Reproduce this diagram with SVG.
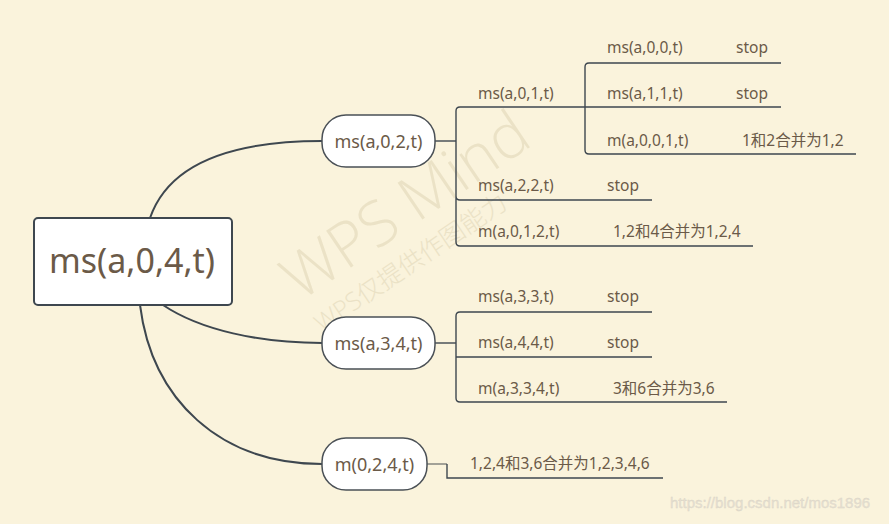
<svg xmlns="http://www.w3.org/2000/svg" width="889" height="524" viewBox="0 0 889 524">
<style>
.bg{fill:#faf3dc}
.t{font-family:"Noto Sans","Noto Sans CJK SC",sans-serif;fill:#6b5a48}
.s{font-size:15.5px}
.n{font-size:18px}
.ln{fill:none;stroke:#3e474f;stroke-width:1.4}
.cv{fill:none;stroke:#3e474f;stroke-width:2}
.pill{fill:#ffffff;stroke:#4a5056;stroke-width:1.5}
.wm{font-family:"Open Sans","Noto Sans","Noto Sans CJK SC",sans-serif;fill:#ebe2c6;font-weight:300}
</style>
<rect class="bg" x="0" y="0" width="889" height="524"/>
<g id="watermark">
<text class="wm" x="0" y="0" font-size="62" transform="translate(300,302) rotate(-34)">WPS Mind</text>
<text class="wm" x="0" y="0" font-size="25" transform="translate(322,333) rotate(-34)">WPS仅提供作图能力</text>
</g>
<g id="connectors">
<path class="cv" d="M150,218 C170,160 240,141 322,141"/>
<path class="cv" d="M163,305 C200,330 260,343 322,343"/>
<path class="cv" d="M140,305 C152,400 220,464 322,464"/>
<path class="ln" d="M435,141 H456"/>
<path class="ln" d="M460,107 H585 M456,111 Q456,107 460,107 M456,111 V242 Q456,246 460,246 H753 M456,196 Q456,200 460,200 H652"/>
<path class="ln" d="M589,63 H781 M585,67 Q585,63 589,63 M585,67 V150 Q585,154 589,154 H856 M585,107 H781"/>
<path class="ln" d="M435,343 H456"/>
<path class="ln" d="M460,312 H652 M456,316 Q456,312 460,312 M456,316 V398 Q456,402 460,402 H727 M456,357 H652"/>
<path fill="none" stroke="#8c8c86" stroke-width="1.6" d="M427,464 H447"/>
<path class="ln" d="M447,464 V478 H663"/>
</g>
<g id="root">
<rect x="34" y="218" width="198" height="87" rx="4" fill="#ffffff" stroke="#3e474f" stroke-width="2"/>
<text class="t" x="132" y="273" font-size="34" text-anchor="middle">ms(a,0,4,t)</text>
</g>
<g id="n-ms-a-0-2-t">
<rect class="pill" x="322" y="115" width="113" height="52" rx="24"/>
<text class="t n" x="378.5" y="148" text-anchor="middle">ms(a,0,2,t)</text>
</g>
<g id="n-ms-a-3-4-t">
<rect class="pill" x="322" y="317" width="113" height="52" rx="24"/>
<text class="t n" x="378.5" y="350" text-anchor="middle">ms(a,3,4,t)</text>
</g>
<g id="n-m-0-2-4-t">
<rect class="pill" x="322" y="438" width="105" height="52" rx="24"/>
<text class="t n" x="374.5" y="471" text-anchor="middle">m(0,2,4,t)</text>
</g>
<g id="n-ms-a-0-1-t"><text class="t s" x="478" y="99">ms(a,0,1,t)</text></g>
<g id="n-ms-a-0-0-t"><text class="t s" x="607" y="53">ms(a,0,0,t)</text><text class="t s" x="736" y="53">stop</text></g>
<g id="n-ms-a-1-1-t"><text class="t s" x="607" y="99">ms(a,1,1,t)</text><text class="t s" x="736" y="99">stop</text></g>
<g id="n-m-a-0-0-1-t"><text class="t s" x="607" y="146">m(a,0,0,1,t)</text><text class="t s" x="742" y="146">1和2合并为1,2</text></g>
<g id="n-ms-a-2-2-t"><text class="t s" x="478" y="191">ms(a,2,2,t)</text><text class="t s" x="607" y="191">stop</text></g>
<g id="n-m-a-0-1-2-t"><text class="t s" x="478" y="237">m(a,0,1,2,t)</text><text class="t s" x="613" y="237">1,2和4合并为1,2,4</text></g>
<g id="n-ms-a-3-3-t"><text class="t s" x="478" y="302">ms(a,3,3,t)</text><text class="t s" x="607" y="302">stop</text></g>
<g id="n-ms-a-4-4-t"><text class="t s" x="478" y="348">ms(a,4,4,t)</text><text class="t s" x="607" y="348">stop</text></g>
<g id="n-m-a-3-3-4-t"><text class="t s" x="478" y="394">m(a,3,3,4,t)</text><text class="t s" x="613" y="394">3和6合并为3,6</text></g>
<g id="n-merge-final"><text class="t s" x="470" y="469">1,2,4和3,6合并为1,2,3,4,6</text></g>
<text x="670" y="508" font-family="'Liberation Sans',Arial,sans-serif" font-size="15" fill="#e6e0d2" stroke="#d9d3c4" stroke-width="0.3">https://blog.csdn.net/mos1896</text>
</svg>
